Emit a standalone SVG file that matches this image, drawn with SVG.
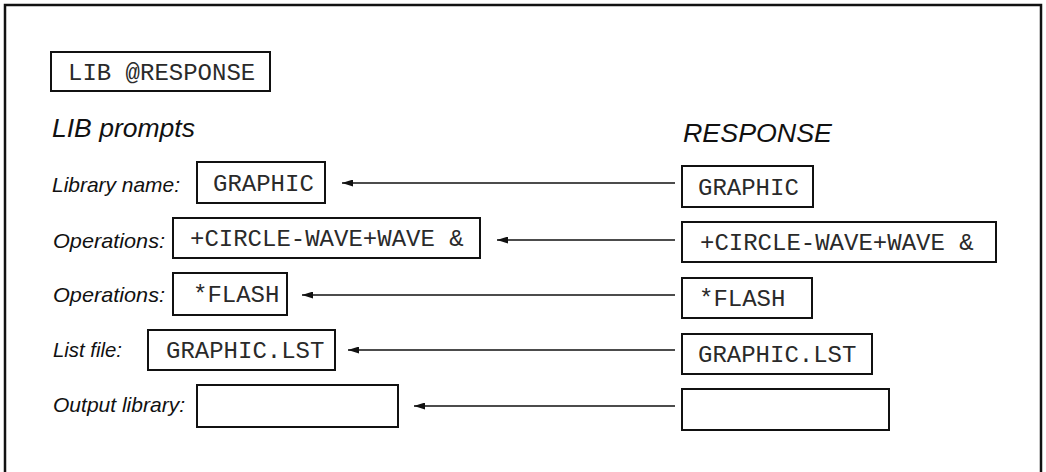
<svg xmlns="http://www.w3.org/2000/svg" width="1046" height="472" viewBox="0 0 1046 472">
<style>
.frame{fill:none;stroke:#111;stroke-width:2.5}
.box{fill:#fff;stroke:#111;stroke-width:2}
.m{font-family:"Liberation Mono","Courier New",monospace;font-size:24px;fill:#2a2a2a}
.lab{font-family:"Liberation Sans",Arial,sans-serif;font-style:italic;font-size:21px;fill:#111}
.hdr{font-family:"Liberation Sans",Arial,sans-serif;font-style:italic;font-size:25px;fill:#111}
.conn{stroke:#111;stroke-width:1.6;fill:none;marker-end:url(#ah)}
</style>
<defs>
<marker id="ah" viewBox="0 0 11 7" refX="11" refY="3.5" markerWidth="11" markerHeight="7" markerUnits="userSpaceOnUse" orient="auto">
<path d="M0,0 L11,3.5 L0,7 Z" fill="#111"/>
</marker>
</defs>
<rect class="frame" x="5" y="5" width="1036" height="480"/>
<g id="cmd">
<rect class="box" x="51" y="52" width="219" height="39"/>
<text class="m" x="68" y="80">LIB @RESPONSE</text>
</g>
<text class="hdr" x="52" y="137" textLength="143" lengthAdjust="spacingAndGlyphs">LIB prompts</text>
<text class="hdr" x="683" y="142" textLength="149" lengthAdjust="spacingAndGlyphs">RESPONSE</text>
<g id="prompt1">
<text class="lab" x="52" y="192" textLength="128" lengthAdjust="spacingAndGlyphs">Library name:</text>
<rect class="box" x="197" y="162" width="128" height="41"/>
<text class="m" x="213" y="191">GRAPHIC</text>
</g>
<g id="prompt2">
<text class="lab" x="53" y="248" textLength="112" lengthAdjust="spacingAndGlyphs">Operations:</text>
<rect class="box" x="173" y="218" width="307" height="40"/>
<text class="m" x="190" y="246">+CIRCLE-WAVE+WAVE &amp;</text>
</g>
<g id="prompt3">
<text class="lab" x="53" y="302" textLength="112" lengthAdjust="spacingAndGlyphs">Operations:</text>
<rect class="box" x="173" y="273" width="114" height="42"/>
<text class="m" x="193" y="302">*FLASH</text>
</g>
<g id="prompt4">
<text class="lab" x="53" y="357" textLength="69" lengthAdjust="spacingAndGlyphs">List file:</text>
<rect class="box" x="148" y="330" width="187" height="40"/>
<text class="m" x="166" y="358">GRAPHIC.LST</text>
</g>
<g id="prompt5">
<text class="lab" x="53" y="412" textLength="132" lengthAdjust="spacingAndGlyphs">Output library:</text>
<rect class="box" x="197" y="385" width="201" height="42"/>
</g>
<g id="resp1">
<rect class="box" x="682" y="166" width="131" height="41"/>
<text class="m" x="698" y="195">GRAPHIC</text>
</g>
<g id="resp2">
<rect class="box" x="682" y="222" width="314" height="40"/>
<text class="m" x="700" y="250">+CIRCLE-WAVE+WAVE &amp;</text>
</g>
<g id="resp3">
<rect class="box" x="682" y="278" width="130" height="40"/>
<text class="m" x="699" y="306">*FLASH</text>
</g>
<g id="resp4">
<rect class="box" x="682" y="334" width="190" height="40"/>
<text class="m" x="698" y="362">GRAPHIC.LST</text>
</g>
<g id="resp5">
<rect class="box" x="682" y="389" width="207" height="41"/>
</g>
<g id="connectors">
<line class="conn" x1="675" y1="183" x2="342" y2="183"/>
<line class="conn" x1="675" y1="240" x2="497" y2="240"/>
<line class="conn" x1="675" y1="295" x2="302" y2="295"/>
<line class="conn" x1="675" y1="350" x2="348" y2="350"/>
<line class="conn" x1="675" y1="406" x2="414" y2="406"/>
</g>
</svg>
